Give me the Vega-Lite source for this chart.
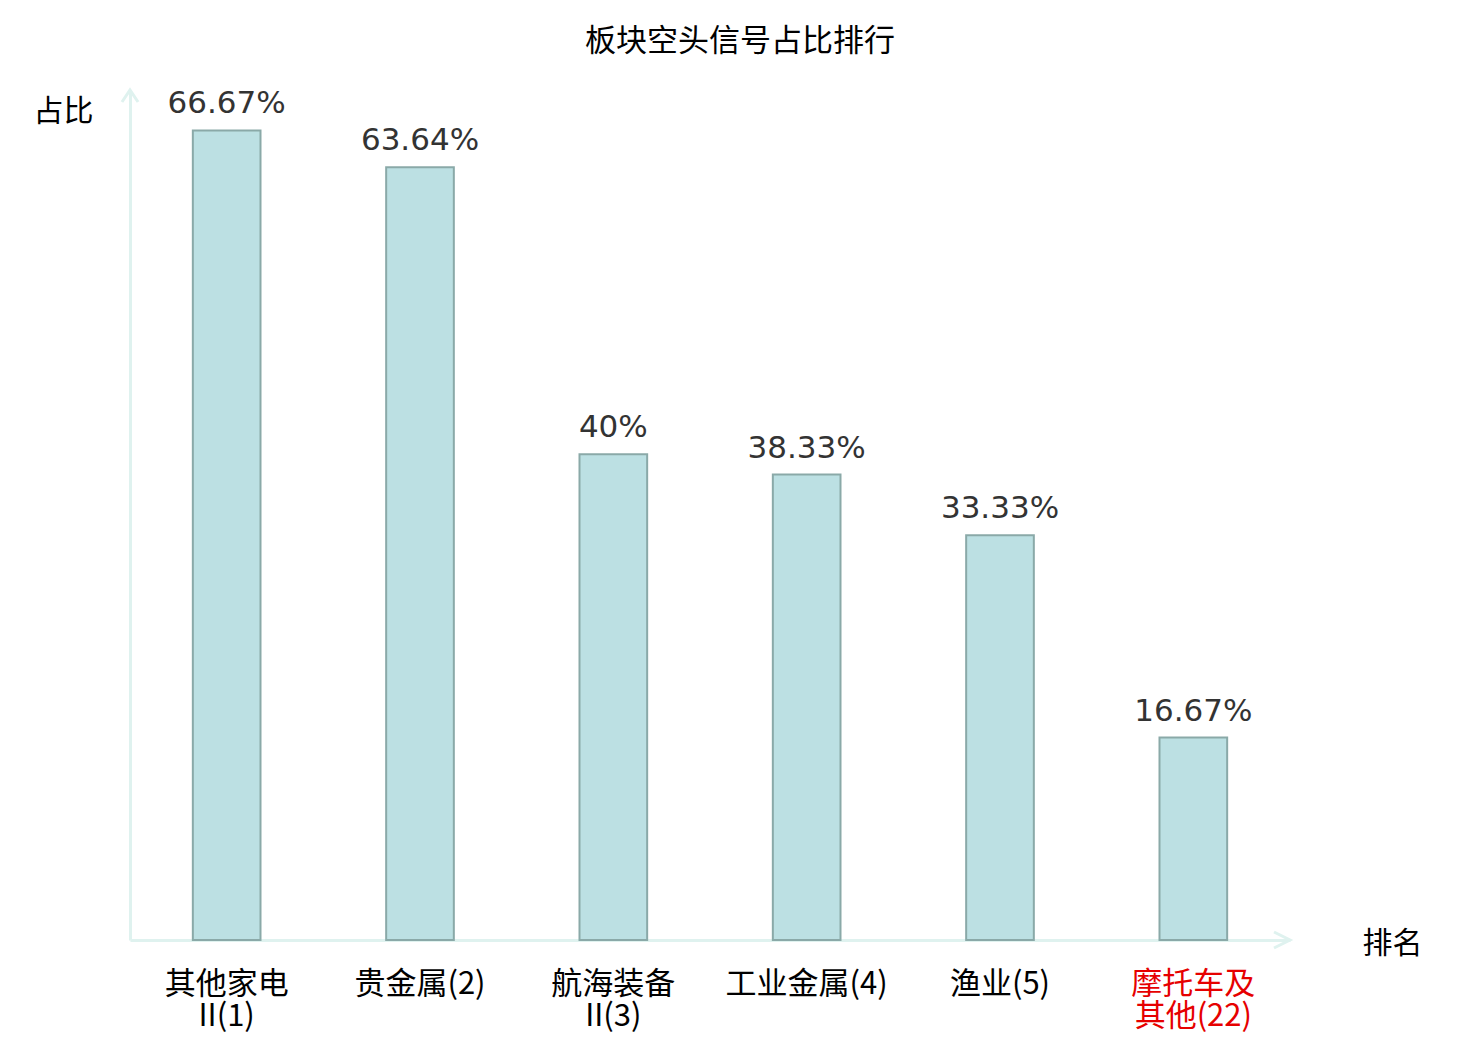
{
  "$schema": "https://vega.github.io/schema/vega-lite/v6.json",
  "width": 1160,
  "height": 850,
  "autosize": "none",
  "padding": {"left": 130, "top": 90, "right": 190, "bottom": 100},
  "background": "white",
  "title": {
    "text": "板块空头信号占比排行",
    "font": "Noto Sans CJK SC",
    "fontSize": 31,
    "fontWeight": "normal",
    "color": "#000",
    "anchor": "middle",
    "dx": 30,
    "offset": 26
  },
  "config": {"view": {"stroke": null}},
  "data": {
    "values": [
      {"name": "其他家电\nII(1)", "share": 0.6667},
      {"name": "贵金属(2)", "share": 0.6364},
      {"name": "航海装备\nII(3)", "share": 0.4},
      {"name": "工业金属(4)", "share": 0.3833},
      {"name": "渔业(5)", "share": 0.3333},
      {"name": "摩托车及\n其他(22)", "share": 0.1667}
    ]
  },
  "layer": [
    {
      "mark": {"type": "bar", "width": {"band": 0.35}, "fill": "#bce0e3", "stroke": "#8aa9a8", "strokeWidth": 2},
      "encoding": {
        "x": {
          "field": "name",
          "type": "nominal",
          "sort": null,
          "scale": {"paddingInner": 0, "paddingOuter": 0},
          "axis": {
            "title": "排名",
            "titleFont": "Noto Sans CJK SC",
            "titleFontSize": 30,
            "titleFontWeight": "normal",
            "titleColor": "#000",
            "titleAngle": 0,
            "titleAlign": "center",
            "titleBaseline": "middle",
            "titleX": 1262,
            "titleY": 3,
            "labelAngle": 0,
            "labelExpr": "split(datum.label, '\\n')",
            "labelFont": "Noto Sans CJK SC",
            "labelFontSize": 31,
            "labelLineHeight": 32,
            "labelBaseline": "top",
            "labelPadding": 29,
            "labelColor": {"condition": {"test": "indexof(datum.value, '摩托车') >= 0", "value": "#e60000"}, "value": "#000"},
            "ticks": false,
            "domainColor": "#dff2ef",
            "domainWidth": 3
          }
        },
        "y": {
          "field": "share",
          "type": "quantitative",
          "scale": {"domain": [0, 0.7]},
          "axis": {
            "title": "占比",
            "titleFont": "Noto Sans CJK SC",
            "titleFontSize": 30,
            "titleFontWeight": "normal",
            "titleColor": "#000",
            "titleAngle": 0,
            "titleAlign": "center",
            "titleBaseline": "middle",
            "titleX": -67,
            "titleY": 21,
            "labels": false,
            "ticks": false,
            "grid": false,
            "domainColor": "#dff2ef",
            "domainWidth": 3
          }
        }
      }
    },
    {
      "mark": {"type": "text", "font": "DejaVu Sans", "fontSize": 31, "fill": "#333", "baseline": "alphabetic", "dy": -17},
      "encoding": {
        "x": {"field": "name", "type": "nominal", "sort": null},
        "y": {"field": "share", "type": "quantitative"},
        "text": {"field": "share", "type": "quantitative", "format": ".2~%"}
      }
    },
    {
      "data": {"values": [{"axis": "y"}]},
      "mark": {"type": "point", "shape": "M-0.67,1L0,0L0.67,1", "filled": false, "stroke": "#dff2ef", "strokeWidth": 3, "size": 576, "opacity": 1},
      "encoding": {
        "x": {"value": 0},
        "y": {"datum": 0.7}
      }
    },
    {
      "data": {"values": [{"axis": "x"}]},
      "mark": {"type": "point", "shape": "M-1,-0.5L0,0L-1,0.5", "filled": false, "stroke": "#dff2ef", "strokeWidth": 3, "size": 1024, "opacity": 1},
      "encoding": {
        "x": {"value": "width"},
        "y": {"datum": 0}
      }
    }
  ]
}
